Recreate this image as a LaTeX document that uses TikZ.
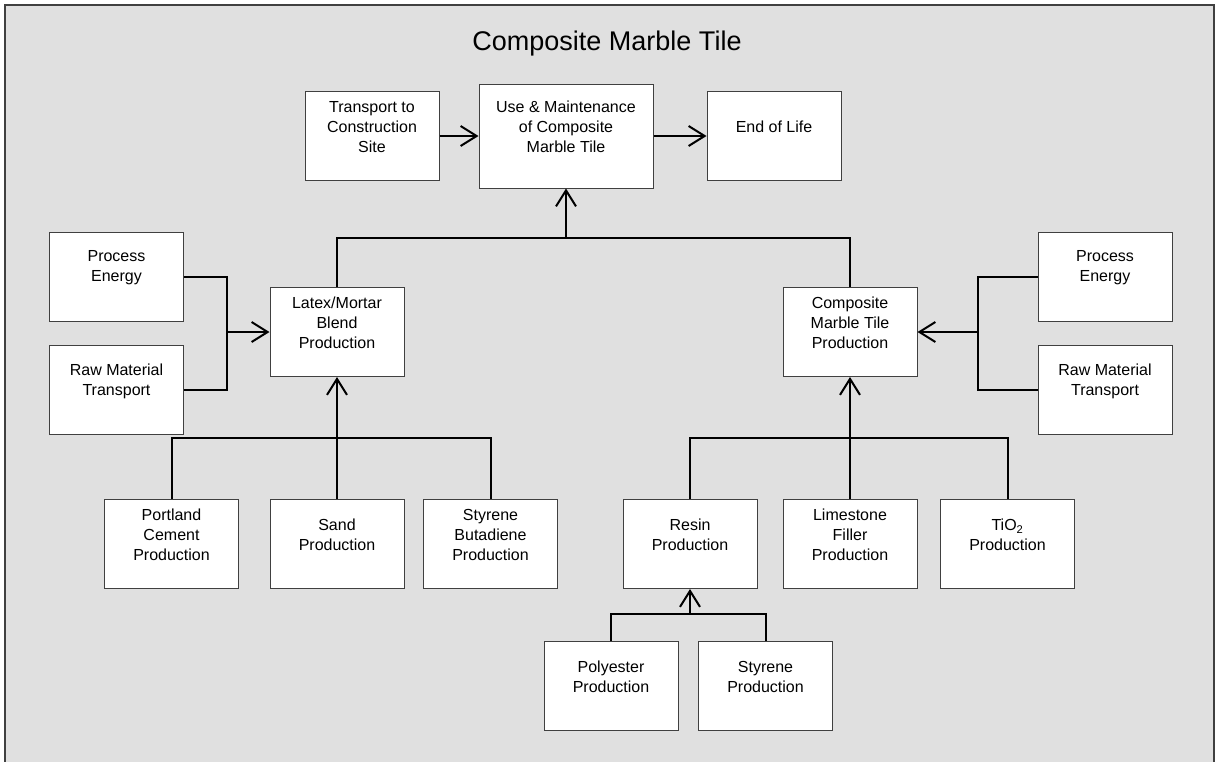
\documentclass[tikz,border=0pt]{standalone}
\usepackage{fontspec}
\setmainfont{Liberation Sans}
\usetikzlibrary{positioning,arrows.meta}
\definecolor{panel}{HTML}{E0E0E0}
\definecolor{edge}{HTML}{404040}

\begin{document}
\begin{tikzpicture}[
		x=1pt, y=-1pt,
		stage/.style={draw=edge, line width=1pt, fill=white, minimum width=134pt, minimum height=89pt, inner sep=0pt},
		txt/.style={align=center, font=\fontsize{16}{20}\selectfont, yshift=9pt},
		flow/.style={line width=2pt, -{Straight Barb[length=16pt,width=20pt,line width=2pt]}},
		link/.style={line width=2pt}
		]
		\useasboundingbox (0,0) rectangle (1215,761);
		\draw[fill=panel, draw=edge, line width=2pt] (5,5) rectangle (1214,780);
		\node[font=\fontsize{27}{32}\selectfont] (title) at (607,44) {Composite Marble Tile};
		
		% life cycle row
		\node[stage, minimum width=174pt, minimum height=104pt, label={[txt]center:{Use \& Maintenance\\of Composite\\Marble Tile}}] (use) at (566,136) {};
		\node[stage, left=39pt of use, label={[txt]center:{Transport to\\Construction\\Site}}] (trans) {};
		\node[stage, right=53pt of use, label={[txt]center:{End of Life}}] (end) {};
		
		% latex/mortar branch
		\node[stage, label={[txt]center:{Latex/Mortar\\Blend\\Production}}] (latex) at (337,332) {};
		\node[stage, label={[txt]center:{Process\\Energy}}] (peL) at (116.5,276.5) {};
		\node[stage, label={[txt]center:{Raw Material\\Transport}}] (rmL) at (116.5,390) {};
		\node[stage, label={[txt]center:{Portland\\Cement\\Production}}] (portland) at (171.5,544) {};
		\node[stage, label={[txt]center:{Sand\\Production}}] (sand) at (337,544) {};
		\node[stage, label={[txt]center:{Styrene\\Butadiene\\Production}}] (sbr) at (490.5,544) {};
		
		% composite marble tile branch
		\node[stage, label={[txt]center:{Composite\\Marble Tile\\Production}}] (cmt) at (850,332) {};
		\node[stage, label={[txt]center:{Process\\Energy}}] (peR) at (1105,276.5) {};
		\node[stage, label={[txt]center:{Raw Material\\Transport}}] (rmR) at (1105,390) {};
		\node[stage, label={[txt]center:{Resin\\Production}}] (resin) at (690,544) {};
		\node[stage, label={[txt]center:{Limestone\\Filler\\Production}}] (lime) at (850,544) {};
		\node[stage, label={[txt]center:{TiO\textsubscript{2}\\Production}}] (tio2) at (1007.5,544) {};
		\node[stage, label={[txt]center:{Polyester\\Production}}] (poly) at (611,685.5) {};
		\node[stage, label={[txt]center:{Styrene\\Production}}] (sty) at (765.5,685.5) {};
		
		% junctions
		\coordinate (topj) at (566,238);
		\coordinate (lj) at (227,332);
		\coordinate (bj) at (337,438);
		\coordinate (rj) at (978,332);
		\coordinate (cj) at (850,438);
		\coordinate (sj) at (690,614);
		
		% connectors
		\draw[flow] (trans) -- (use);
		\draw[flow] (use) -- (end);
		\draw[link] (latex.north) |- (topj) -| (cmt.north);
		\draw[flow] (topj) -- (use.south);
		\draw[link] (peL.east) -| (lj) |- (rmL.east);
		\draw[flow] (lj) -- (latex.west);
		\draw[link] (portland.north) |- (bj) -| (sbr.north);
		\draw[flow] (sand.north) -- (latex.south);
		\draw[link] (peR.west) -| (rj) |- (rmR.west);
		\draw[flow] (rj) -- (cmt.east);
		\draw[link] (resin.north) |- (cj) -| (tio2.north);
		\draw[flow] (lime.north) -- (cmt.south);
		\draw[link] (poly.north) |- (sj) -| (sty.north);
		\draw[flow] (sj) -- (resin.south);
	\end{tikzpicture}
\end{document}
